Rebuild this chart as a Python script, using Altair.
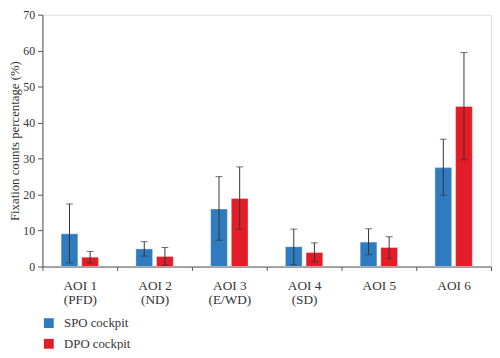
import altair as alt
import pandas as pd

categories = ["AOI 1\n(PFD)", "AOI 2\n(ND)", "AOI 3\n(E/WD)", "AOI 4\n(SD)", "AOI 5", "AOI 6"]
series = ["SPO cockpit", "DPO cockpit"]
spo_mean = [9.1, 4.9, 16.0, 5.5, 6.8, 27.5]
spo_low = [1.0, 2.9, 7.3, 0.5, 3.3, 19.8]
spo_high = [17.4, 6.9, 25.0, 10.4, 10.5, 35.4]
dpo_mean = [2.6, 2.8, 18.9, 3.9, 5.3, 44.5]
dpo_low = [1.0, 0.4, 10.3, 1.3, 2.2, 29.7]
dpo_high = [4.2, 5.3, 27.7, 6.6, 8.3, 59.5]
colors = ["#2f7bbf", "#e31d27"]

rows = []
for i, c in enumerate(categories):
    rows.append({"aoi": c, "cockpit": series[0], "mean": spo_mean[i], "low": spo_low[i], "high": spo_high[i]})
    rows.append({"aoi": c, "cockpit": series[1], "mean": dpo_mean[i], "low": dpo_low[i], "high": dpo_high[i]})
df = pd.DataFrame(rows)

FONT = "Liberation Serif"

x = alt.X("aoi:N", sort=categories, title=None,
          scale=alt.Scale(paddingInner=0, paddingOuter=0),
          axis=alt.Axis(labelAngle=0, labelExpr="split(datum.label, '\\n')",
                        tickBand="extent", labelLineHeight=15, labelFontSize=13.5,
                        labelFont=FONT, labelColor="#333", labelPadding=8,
                        tickSize=4, domainColor="#555", tickColor="#555"))
xoff = alt.XOffset("cockpit:N", sort=series,
                   scale=alt.Scale(paddingInner=0.19, paddingOuter=0.905))

yscale = alt.Scale(domain=[0, 70], nice=False, zero=True)
yaxis = alt.Axis(values=list(range(0, 71, 10)), grid=False, tickSize=5,
                 labelPadding=3, labelFontSize=12, labelFont=FONT,
                 labelColor="#333", labelOverlap=False, titleFont=FONT, titleFontSize=13,
                 titleFontWeight="normal", titleColor="#333",
                 titlePadding=1, domainColor="#555", tickColor="#555")
TITLE = "Fixation counts percentage (%)"

def Y(field):
    return alt.Y(field, type="quantitative", title=TITLE, scale=yscale, axis=yaxis)

base = alt.Chart(df)

bars = base.mark_bar(strokeWidth=1, strokeOpacity=0.35, stroke="white").encode(
    x=x, xOffset=xoff, y=Y("mean"),
    color=alt.Color("cockpit:N", sort=series,
                    scale=alt.Scale(domain=series, range=colors),
                    legend=alt.Legend(title=None, orient="none", legendX=0, legendY=307,
                                      symbolType="square", symbolSize=100,
                                      symbolStrokeWidth=0, labelFont=FONT,
                                      labelFontSize=13, labelColor="#333",
                                      labelOffset=9, rowPadding=7)),
)

rules = base.mark_rule(color="#333", strokeWidth=1).encode(
    x=x, xOffset=xoff, y=Y("low"), y2="high:Q")
cap_hi = base.mark_tick(color="#333", size=7, thickness=1).encode(
    x=x, xOffset=xoff, y=Y("high"))
cap_lo = base.mark_tick(color="#333", size=7, thickness=1).encode(
    x=x, xOffset=xoff, y=Y("low"))

chart = (bars + rules + cap_hi + cap_lo).properties(
    width=456, height=256,
    autosize=alt.AutoSizeParams(type="none"),
    padding={"left": 35, "top": 4, "right": 1, "bottom": 82},
).configure_view(stroke=None).configure(background="white")

chart.save("out.html", embed_options={"renderer": "svg", "actions": False})
